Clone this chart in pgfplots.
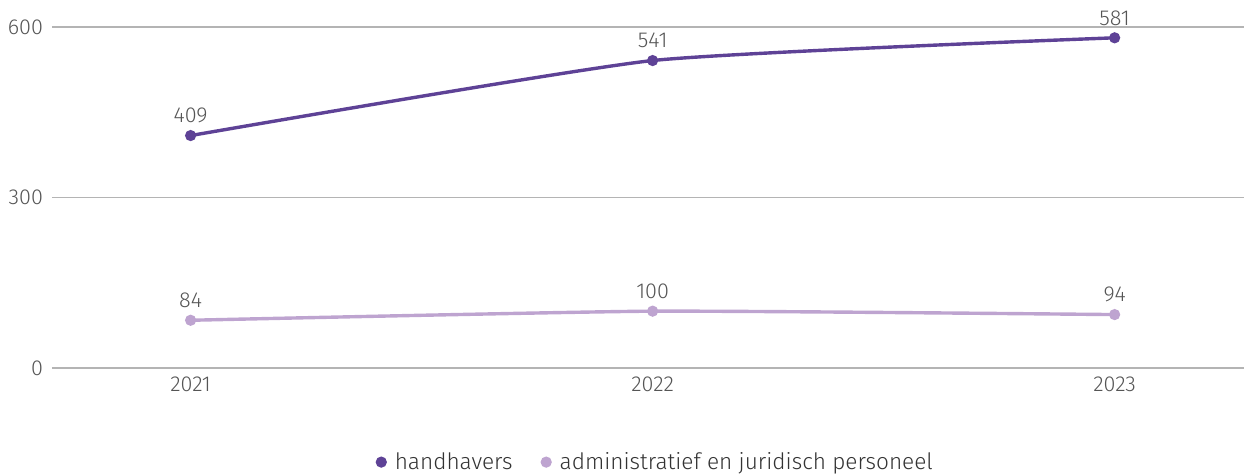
\documentclass[border=0pt]{standalone}
\usepackage{pgfplots}
\pgfplotsset{compat=1.18}
\usetikzlibrary{calc}
\usepackage{fontspec}
\setmainfont{Fira Sans Light}
\definecolor{dark}{RGB}{94,66,150}
\definecolor{light}{RGB}{190,164,208}
\definecolor{txt}{RGB}{85,85,85}
\definecolor{gridc}{RGB}{180,180,180}
\begin{document}
\begin{tikzpicture}
\begin{axis}[
name=ax,
scale only axis=true,
width=596pt,
height=170.5pt,
xmin=-0.3, xmax=2.28,
ymin=0, ymax=600,
xtick={0,1,2},
xticklabels={2021,2022,2023},
ytick={0,300,600},
axis line style={draw=none},
ymajorgrids=true,
major grid style={gridc, line width=0.6pt},
tick style={draw=none},
yticklabel style={xshift=-1pt},
xticklabel style={yshift=-1pt},
/pgf/number format/assume math mode=true,
ticklabel style={font=\fontsize{10.8}{12}\selectfont, text=txt},
clip=false,
legend columns=-1,
legend style={draw=none, at={(0.507,-0.276)}, anchor=center,
  font=\fontsize{11.3}{13}\selectfont, text=black!80,
  /tikz/every odd column/.append style={column sep=2pt},
  /tikz/every even column/.append style={column sep=12pt}},
legend image code/.code={\fill[#1] (0.15cm,0cm) circle (1.9pt);},
nodes near coords,
every node near coord/.append style={font=\fontsize{10.8}{12}\selectfont, text=txt, yshift=2pt},
]
\addplot+[dark, line width=1.7pt, smooth, tension=0.3, mark=*, mark size=1.9pt,
  mark options={fill=dark, draw=dark}] coordinates {(0,409) (1,541) (2,581)};
\addlegendentry{handhavers}
\addplot+[light, line width=1.7pt, smooth, tension=0.3, mark=*, mark size=1.9pt,
  mark options={fill=light, draw=light}] coordinates {(0,84) (1,100) (2,94)};
\addlegendentry{administratief en juridisch personeel}
\end{axis}
\pgfresetboundingbox
\useasboundingbox ($(ax.south west)+(-26pt,-52.5pt)$) rectangle ($(ax.north east)+(0pt,13.5pt)$);
\end{tikzpicture}
\end{document}
